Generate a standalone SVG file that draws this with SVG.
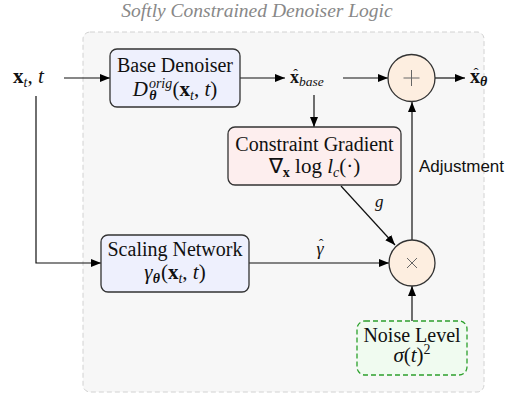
<svg xmlns="http://www.w3.org/2000/svg" width="513" height="395" viewBox="0 0 513 395">
<defs>
<marker id="ah" viewBox="0 0 10 8" refX="10" refY="4" markerWidth="10" markerHeight="8" markerUnits="userSpaceOnUse" orient="auto">
<path d="M0,0 L10,4 L0,8 Z" fill="#000"/>
</marker>
<style>
.serif{font-family:"Liberation Serif","Times New Roman",serif;font-size:20px;fill:#111}
.m{font-size:21px}
.it{font-style:italic}
.bf{font-weight:bold}
.sm{font-size:14px}
.box{stroke:#333;stroke-width:1.3}
.conn{stroke:#111;stroke-width:1.2;fill:none;marker-end:url(#ah)}
</style>
</defs>
<rect width="513" height="395" fill="#fff"/>
<text x="257" y="17" text-anchor="middle" class="serif it" style="font-size:19.5px;fill:#888">Softly Constrained Denoiser Logic</text>
<rect x="83" y="32" width="401" height="360" rx="7" fill="#f7f7f7" stroke="#d2d2d2" stroke-dasharray="5,3"/>

<g id="connectors">
<line class="conn" x1="64" y1="78" x2="110" y2="78"/>
<line class="conn" x1="240" y1="78" x2="285" y2="78"/>
<line class="conn" x1="343" y1="78" x2="388" y2="78"/>
<line class="conn" x1="435" y1="78" x2="465" y2="78"/>
<line class="conn" x1="314" y1="95" x2="314" y2="127"/>
<line class="conn" x1="341" y1="186" x2="395" y2="245"/>
<line class="conn" x1="412" y1="240" x2="412" y2="102"/>
<polyline class="conn" points="36,96 36,263 101,263"/>
<line class="conn" x1="249" y1="263" x2="389" y2="263"/>
<line class="conn" x1="412" y1="321" x2="412" y2="286"/>
<text x="375" y="207" class="serif it" style="font-size:17px">g</text>
<text x="320" y="255" class="serif it" text-anchor="middle" style="font-size:18px">γ</text>
<text x="321" y="249" class="serif" text-anchor="middle" style="font-size:14px">ˆ</text>
<text x="419" y="172" style="font-family:'Liberation Sans',Arial,sans-serif;font-size:17px;fill:#111">Adjustment</text>
</g>

<g id="input">
<text x="13" y="83" class="serif m"><tspan class="bf">x</tspan><tspan class="sm it" dy="4">t</tspan><tspan dy="-4">, </tspan><tspan class="it">t</tspan></text>
</g>

<g id="xbase">
<text x="290" y="83" class="serif" style="font-size:18px"><tspan class="bf">x</tspan><tspan class="it" style="font-size:13.5px" dy="3">base</tspan></text>
<text x="295.5" y="79" class="serif" text-anchor="middle" style="font-size:14px">ˆ</text>
</g>

<g id="output">
<text x="470" y="83" class="serif" style="font-size:20px"><tspan class="bf">x</tspan><tspan class="bf it" style="font-size:14px" dy="3">θ</tspan></text>
<text x="476" y="78" class="serif" text-anchor="middle" style="font-size:15px">ˆ</text>
</g>

<g id="base-denoiser">
<rect class="box" x="110" y="49" width="130" height="58" rx="7" fill="#eef0fd"/>
<text x="175" y="72" text-anchor="middle" class="serif">Base Denoiser</text>
<text x="175" y="96" text-anchor="middle" class="serif m"><tspan class="it">D</tspan><tspan class="sm it" dx="1" dy="-8">orig</tspan><tspan class="sm bf it" dx="-23" dy="12">θ</tspan><tspan dx="16" dy="-4">(</tspan><tspan class="bf">x</tspan><tspan class="sm it" dy="4">t</tspan><tspan dy="-4">, </tspan><tspan class="it">t</tspan>)</text>
</g>

<g id="plus">
<circle class="box" cx="411.5" cy="78" r="23.5" fill="#fdeee0"/>
<path d="M411.5,70 V86 M403.5,78 H419.5" stroke="#666" stroke-width="1"/>
</g>

<g id="constraint-gradient">
<rect class="box" x="228" y="127" width="173" height="58" rx="7" fill="#fdeeee"/>
<text x="314.5" y="151" text-anchor="middle" class="serif">Constraint Gradient</text>
<text x="314.5" y="173" text-anchor="middle" class="serif m">∇<tspan class="sm bf" dy="4">x</tspan><tspan dy="-4"> log </tspan><tspan class="it">l</tspan><tspan class="sm it" dy="4">c</tspan><tspan dy="-4">(·)</tspan></text>
</g>

<g id="times">
<circle class="box" cx="412" cy="263" r="23" fill="#fdeee0"/>
<path d="M407,258 L417,268 M417,258 L407,268" stroke="#666" stroke-width="1"/>
</g>

<g id="scaling-network">
<rect class="box" x="101" y="235" width="148" height="57" rx="7" fill="#eef0fd"/>
<text x="175" y="256" text-anchor="middle" class="serif">Scaling Network</text>
<text x="175" y="279" text-anchor="middle" class="serif m"><tspan class="it">γ</tspan><tspan class="sm bf it" dy="4">θ</tspan><tspan dx="1" dy="-4">(</tspan><tspan class="bf">x</tspan><tspan class="sm it" dy="4">t</tspan><tspan dy="-4">, </tspan><tspan class="it">t</tspan>)</text>
</g>

<g id="noise-level">
<rect x="357" y="321" width="110" height="54" rx="8" fill="#f0fbf0" stroke="#2ca02c" stroke-width="1.3" stroke-dasharray="5,3"/>
<text x="412" y="342" text-anchor="middle" class="serif">Noise Level</text>
<text x="412" y="362" text-anchor="middle" class="serif m"><tspan class="it">σ</tspan>(<tspan class="it">t</tspan>)<tspan class="sm" dy="-8">2</tspan></text>
</g>
</svg>
